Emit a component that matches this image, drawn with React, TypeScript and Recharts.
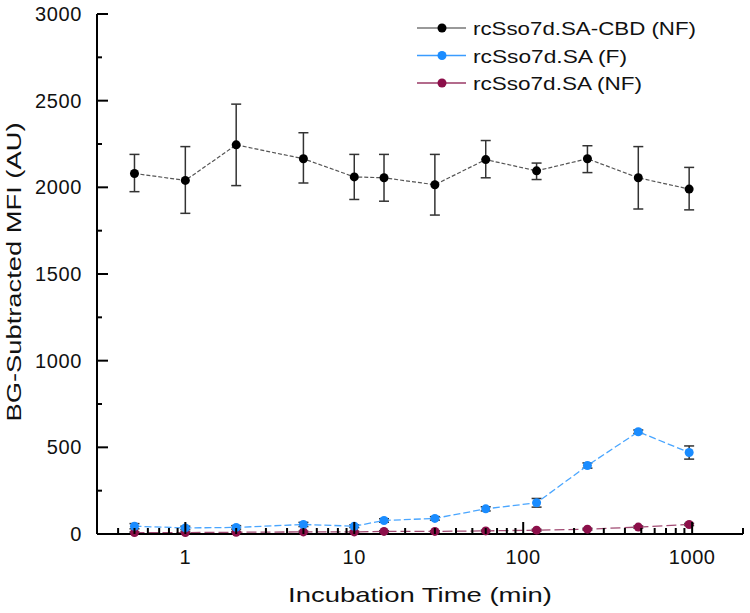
import React from "react";
import { LineChart, Line, XAxis, YAxis, ErrorBar } from "recharts";

// ── Data ─────────────────────────────────────────────────────

const times = [0.5, 1, 2, 5, 10, 15, 30, 60, 120, 240, 480, 960];

const cbdMean = [2080, 2040, 2245, 2165, 2060, 2055, 2015, 2160, 2095, 2165, 2055, 1990];
const cbdLow  = [1975, 1850, 2010, 2025, 1930, 1920, 1840, 2055, 2045, 2085, 1875, 1870];
const cbdHigh = [2190, 2235, 2480, 2315, 2190, 2190, 2190, 2270, 2140, 2240, 2235, 2115];

const saFMean = [45, 35, 38, 55, 45, 78, 90, 145, 180, 395, 590, 470];
const saFErr  = [15, 10, 10, 12, 8, 10, 10, 12, 25, 15, 10, 38];

const saNFMean = [8, 8, 10, 12, 12, 15, 15, 18, 22, 28, 40, 55];
const saNFErr  = [4, 4, 4, 4, 4, 4, 4, 4, 5, 5, 6, 6];

const seriesNames = ["rcSso7d.SA-CBD (NF)", "rcSso7d.SA (F)", "rcSso7d.SA (NF)"];

const xMajor = [1, 10, 100, 1000];
const xMinor = [
  0.4, 0.5, 0.6, 0.7, 0.8, 0.9,
  2, 3, 4, 5, 6, 7, 8, 9,
  20, 30, 40, 50, 60, 70, 80, 90,
  200, 300, 400, 500, 600, 700, 800, 900,
  2000,
];
const yTicks = [0, 250, 500, 750, 1000, 1250, 1500, 1750, 2000, 2250, 2500, 2750, 3000];
const yLabeled = [0, 500, 1000, 1500, 2000, 2500, 3000];

// ── Look ─────────────────────────────────────────────────────

const C_BLACK = "#000000";
const C_BLUE = "#1a8cff";
const C_MAROON = "#8c0f4a";
const FONT = "'Liberation Sans', Arial, sans-serif";

const data = times.map((t, i) => ({
  t,
  cbd: cbdMean[i],
  cbdErr: [cbdMean[i] - cbdLow[i], cbdHigh[i] - cbdMean[i]],
  saF: saFMean[i],
  saFErr: saFErr[i],
  saNF: saNFMean[i],
  saNFErr: saNFErr[i],
}));

const XTick = (props: any) => {
  const { x, y, payload } = props;
  const major = xMajor.includes(payload.value);
  return (
    <g>
      <line x1={x} x2={x} y1={y} y2={y - (major ? 12 : 6)} stroke="#000" strokeWidth={2} />
      {major && (
        <text x={x} y={y + 30} textAnchor="middle" fontSize={20} fontFamily={FONT} fill="#111" letterSpacing={0.6}>
          {payload.value}
        </text>
      )}
    </g>
  );
};

const YTick = (props: any) => {
  const { x, y, payload } = props;
  const major = yLabeled.includes(payload.value);
  return (
    <g>
      <line x1={x} x2={x + (major ? 11 : 5)} y1={y} y2={y} stroke="#000" strokeWidth={2} />
      {major && (
        <text x={x - 15} y={y + 7} textAnchor="end" fontSize={20} fontFamily={FONT} fill="#111" letterSpacing={0.6}>
          {payload.value}
        </text>
      )}
    </g>
  );
};

const legendRows = [
  { name: seriesNames[0], dot: C_BLACK, line: "#777777", len: 223 },
  { name: seriesNames[1], dot: C_BLUE, line: "#3a9cff", len: 154 },
  { name: seriesNames[2], dot: C_MAROON, line: "#9a3a66", len: 169 },
];

export default function App() {
  return (
    <div style={{ position: "absolute", left: 0, top: 0, width: 750, height: 613, background: "#fff" }}>
      <LineChart width={750} height={613} data={data} margin={{ top: 14, right: 7, left: 0, bottom: 0 }}>
        <XAxis
          dataKey="t"
          type="number"
          scale="log"
          domain={[0.3, 2000]}
          allowDataOverflow
          ticks={[...xMajor, ...xMinor].sort((a, b) => a - b)}
          interval={0}
          height={79}
          tickSize={0}
          tickMargin={0}
          tickLine={false}
          axisLine={{ stroke: "#000", strokeWidth: 2 }}
          tick={<XTick />}
        />
        <YAxis
          type="number"
          domain={[0, 3000]}
          ticks={yTicks}
          interval={0}
          width={97}
          tickSize={0}
          tickMargin={0}
          tickLine={false}
          axisLine={{ stroke: "#000", strokeWidth: 2 }}
          tick={<YTick />}
        />
        <Line
          dataKey="saNF"
          stroke="#a04a72"
          strokeWidth={1.3}
          strokeDasharray="10 4"
          dot={{ r: 4.5, fill: C_MAROON, stroke: "none" }}
          isAnimationActive={false}
        >
          <ErrorBar dataKey="saNFErr" width={5} stroke="#333" strokeWidth={1.5} direction="y" />
        </Line>
        <Line
          dataKey="saF"
          stroke="#4aa6ff"
          strokeWidth={1.3}
          strokeDasharray="7 3"
          dot={{ r: 4.5, fill: C_BLUE, stroke: "none" }}
          isAnimationActive={false}
        >
          <ErrorBar dataKey="saFErr" width={5} stroke="#333" strokeWidth={1.5} direction="y" />
        </Line>
        <Line
          dataKey="cbd"
          stroke="#555"
          strokeWidth={1.2}
          strokeDasharray="4 2"
          dot={{ r: 4.5, fill: C_BLACK, stroke: "none" }}
          isAnimationActive={false}
        >
          <ErrorBar dataKey="cbdErr" width={5} stroke="#333" strokeWidth={1.5} direction="y" />
        </Line>
      </LineChart>

      {/* legend + axis titles */}
      <svg width={750} height={613} style={{ position: "absolute", left: 0, top: 0, pointerEvents: "none" }}>
        {legendRows.map((r, i) => {
          const cy = 28 + i * 27.5;
          return (
            <g key={r.name}>
              <line x1={417} x2={466} y1={cy} y2={cy} stroke={r.line} strokeWidth={1.5} />
              <circle cx={442} cy={cy} r={4.5} fill={r.dot} />
              <text x={473} y={cy + 7} fontSize={19} fontFamily={FONT} fill="#111" textLength={r.len} lengthAdjust="spacingAndGlyphs">
                {r.name}
              </text>
            </g>
          );
        })}
        <text x={420} y={602} textAnchor="middle" fontSize={21} fontFamily={FONT} fill="#111" textLength={264} lengthAdjust="spacingAndGlyphs">
          Incubation Time (min)
        </text>
        <text
          transform="translate(21, 272) rotate(-90)"
          textAnchor="middle"
          fontSize={21}
          fontFamily={FONT}
          fill="#111"
          textLength={299}
          lengthAdjust="spacingAndGlyphs"
        >
          BG-Subtracted MFI (AU)
        </text>
      </svg>
    </div>
  );
}
